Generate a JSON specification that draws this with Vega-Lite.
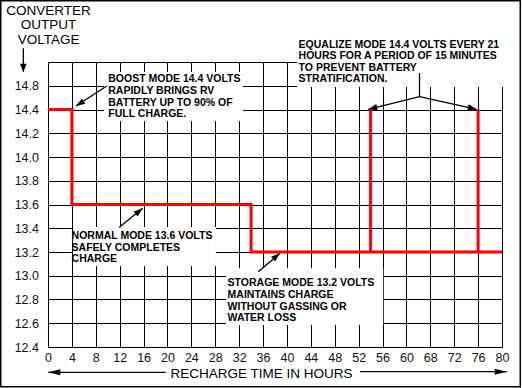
{
  "$schema": "https://vega.github.io/schema/vega-lite/v6.json",
  "width": 454,
  "height": 285,
  "autosize": {"type": "none"},
  "padding": {"left": 48, "top": 62, "right": 20, "bottom": 41},
  "background": "white",
  "data": {"values": [{}]},
  "config": {
    "view": {"stroke": null},
    "font": "Liberation Sans",
    "axis": {
      "grid": true, "gridColor": "#000", "gridOpacity": 1, "gridWidth": 1,
      "domainColor": "#000", "domainWidth": 1, "ticks": false, "tickCount": 30,
      "labelFont": "Liberation Sans", "labelFontSize": 12.5, "labelColor": "#111",
      "titleFont": "Liberation Sans", "titleFontSize": 13.5, "titleFontWeight": "normal", "titleColor": "#000"
    }
  },
  "layer": [
    {
      "data": {"values": [
        {"seq": 1, "hours": 0, "volts": 14.4},
        {"seq": 2, "hours": 4, "volts": 14.4},
        {"seq": 3, "hours": 4, "volts": 13.6},
        {"seq": 4, "hours": 34, "volts": 13.6},
        {"seq": 5, "hours": 34, "volts": 13.2},
        {"seq": 6, "hours": 54, "volts": 13.2},
        {"seq": 7, "hours": 54, "volts": 14.4},
        {"seq": 8, "hours": 54, "volts": 13.2},
        {"seq": 9, "hours": 76, "volts": 13.2},
        {"seq": 10, "hours": 76, "volts": 14.4},
        {"seq": 11, "hours": 76, "volts": 13.2},
        {"seq": 12, "hours": 80, "volts": 13.2}
      ]},
      "mark": {"type": "line", "color": "#ff0000", "strokeWidth": 3, "strokeJoin": "miter", "strokeCap": "butt"},
      "encoding": {
        "x": {
          "field": "hours", "type": "quantitative",
          "scale": {"domain": [0, 60, 68, 80], "range": [0, 358.42, 382.32, 454], "nice": false, "zero": false},
          "axis": {
            "values": [0, 4, 8, 12, 16, 20, 24, 28, 32, 36, 40, 44, 48, 52, 56, 60, 68, 72, 76, 80],
            "tickCount": 30,
            "format": "d", "labelFlush": false, "labelOverlap": false, "labelPadding": 4,
            "title": "RECHARGE TIME IN HOURS", "titleX": 213, "titleY": 30.3, "titleBaseline": "alphabetic", "titleAlign": "center"
          }
        },
        "y": {
          "field": "volts", "type": "quantitative",
          "scale": {"domain": [12.4, 14.8], "nice": false, "zero": false},
          "axis": {
            "values": [12.4, 12.6, 12.8, 13, 13.2, 13.4, 13.6, 13.8, 14, 14.2, 14.4, 14.6, 14.8],
            "tickCount": 30,
            "labelExpr": "datum.value > 14.7 ? '' : (datum.value > 14.5 ? '14.8' : format(datum.value, '.1f'))",
            "labelPadding": 9.5, "labelOverlap": false,
            "title": ["CONVERTER", "OUTPUT", "VOLTAGE"], "titleAngle": 0, "titleAlign": "center",
            "titleBaseline": "top", "titleX": 0, "titleY": -58.3, "titleLineHeight": 14.2
          }
        },
        "order": {"field": "seq"}
      }
    },
    {
      "mark": {"type": "rect", "fill": "white"},
      "encoding": {"x": {"datum": 9.37, "type": "quantitative"}, "x2": {"datum": 32.64}, "y": {"datum": 14.303, "type": "quantitative"}, "y2": {"datum": 14.716}}
    },
    {
      "mark": {"type": "rect", "fill": "white"},
      "encoding": {"x": {"datum": 4.18, "type": "quantitative"}, "x2": {"datum": 28.12}, "y": {"datum": 13.082, "type": "quantitative"}, "y2": {"datum": 13.41}}
    },
    {
      "mark": {"type": "rect", "fill": "white"},
      "encoding": {"x": {"datum": 29.8, "type": "quantitative"}, "x2": {"datum": 56.12}, "y": {"datum": 12.585, "type": "quantitative"}, "y2": {"datum": 13.065}}
    },
    {
      "mark": {"type": "rect", "fill": "white"},
      "encoding": {"x": {"datum": 41.68, "type": "quantitative"}, "x2": {"datum": 80.34}, "y": {"datum": 14.59, "type": "quantitative"}, "y2": {"datum": 15.011}}
    },
    {
      "mark": {"type": "text", "font": "Liberation Sans", "fontWeight": "bold", "fontSize": 10.5, "lineHeight": 11.6, "align": "left", "baseline": "top", "color": "#000"},
      "encoding": {"x": {"datum": 10.09, "type": "quantitative"}, "y": {"datum": 14.695, "type": "quantitative"},
        "text": {"value": ["BOOST MODE 14.4 VOLTS", "RAPIDLY BRINGS RV", "BATTERY UP TO 90% OF", "FULL CHARGE."]}}
    },
    {
      "mark": {"type": "text", "font": "Liberation Sans", "fontWeight": "bold", "fontSize": 10.5, "lineHeight": 11.6, "align": "left", "baseline": "top", "color": "#000"},
      "encoding": {"x": {"datum": 3.95, "type": "quantitative"}, "y": {"datum": 13.375, "type": "quantitative"},
        "text": {"value": ["NORMAL MODE 13.6 VOLTS", "SAFELY COMPLETES", "CHARGE"]}}
    },
    {
      "mark": {"type": "text", "font": "Liberation Sans", "fontWeight": "bold", "fontSize": 10.5, "lineHeight": 11.6, "align": "left", "baseline": "top", "color": "#000"},
      "encoding": {"x": {"datum": 30.06, "type": "quantitative"}, "y": {"datum": 12.977, "type": "quantitative"},
        "text": {"value": ["STORAGE MODE 13.2 VOLTS", "MAINTAINS CHARGE", "WITHOUT GASSING OR", "WATER LOSS"]}}
    },
    {
      "mark": {"type": "text", "font": "Liberation Sans", "fontWeight": "bold", "fontSize": 10.5, "lineHeight": 11.6, "align": "left", "baseline": "top", "color": "#000"},
      "encoding": {"x": {"datum": 41.95, "type": "quantitative"}, "y": {"datum": 14.989, "type": "quantitative"},
        "text": {"value": ["EQUALIZE MODE 14.4 VOLTS EVERY 21", "HOURS FOR A PERIOD OF 15 MINUTES", "TO PREVENT BATTERY", "STRATIFICATION."]}}
    },
    {
      "mark": {"type": "rule", "color": "#000", "strokeWidth": 1.3},
      "encoding": {"x": {"datum": 9.83, "type": "quantitative"}, "y": {"datum": 14.598, "type": "quantitative"}, "x2": {"datum": 4.69}, "y2": {"datum": 14.429}}
    },
    {
      "mark": {"type": "point", "shape": "M0,0L-0.7,2L0.7,2Z", "filled": true, "opacity": 1, "color": "#000", "size": 81, "angle": 236.9},
      "encoding": {"x": {"datum": 4.69, "type": "quantitative"}, "y": {"datum": 14.429, "type": "quantitative"}}
    },
    {
      "mark": {"type": "rule", "color": "#000", "strokeWidth": 1.3},
      "encoding": {"x": {"datum": 11.93, "type": "quantitative"}, "y": {"datum": 13.408, "type": "quantitative"}, "x2": {"datum": 15.85}, "y2": {"datum": 13.568}}
    },
    {
      "mark": {"type": "point", "shape": "M0,0L-0.7,2L0.7,2Z", "filled": true, "opacity": 1, "color": "#000", "size": 81, "angle": 50.9},
      "encoding": {"x": {"datum": 15.85, "type": "quantitative"}, "y": {"datum": 13.568, "type": "quantitative"}}
    },
    {
      "mark": {"type": "rule", "color": "#000", "strokeWidth": 1.3},
      "encoding": {"x": {"datum": 35.2, "type": "quantitative"}, "y": {"datum": 13.034, "type": "quantitative"}, "x2": {"datum": 38.83}, "y2": {"datum": 13.189}}
    },
    {
      "mark": {"type": "point", "shape": "M0,0L-0.7,2L0.7,2Z", "filled": true, "opacity": 1, "color": "#000", "size": 81, "angle": 49.7},
      "encoding": {"x": {"datum": 38.83, "type": "quantitative"}, "y": {"datum": 13.189, "type": "quantitative"}}
    },
    {
      "mark": {"type": "rule", "color": "#000", "strokeWidth": 1.3},
      "encoding": {"x": {"datum": 64.38, "type": "quantitative"}, "y": {"datum": 14.707, "type": "quantitative"}, "x2": {"datum": 64.38}, "y2": {"datum": 14.508}}
    },
    {
      "mark": {"type": "rule", "color": "#000", "strokeWidth": 1.3},
      "encoding": {"x": {"datum": 64.38, "type": "quantitative"}, "y": {"datum": 14.508, "type": "quantitative"}, "x2": {"datum": 53.62}, "y2": {"datum": 14.402}}
    },
    {
      "mark": {"type": "point", "shape": "M0,0L-0.7,2L0.7,2Z", "filled": true, "opacity": 1, "color": "#000", "size": 81, "angle": 256.2},
      "encoding": {"x": {"datum": 53.62, "type": "quantitative"}, "y": {"datum": 14.402, "type": "quantitative"}}
    },
    {
      "mark": {"type": "rule", "color": "#000", "strokeWidth": 1.3},
      "encoding": {"x": {"datum": 64.38, "type": "quantitative"}, "y": {"datum": 14.508, "type": "quantitative"}, "x2": {"datum": 75.77}, "y2": {"datum": 14.402}}
    },
    {
      "mark": {"type": "point", "shape": "M0,0L-0.7,2L0.7,2Z", "filled": true, "opacity": 1, "color": "#000", "size": 81, "angle": 102.4},
      "encoding": {"x": {"datum": 75.77, "type": "quantitative"}, "y": {"datum": 14.402, "type": "quantitative"}}
    },
    {
      "mark": {"type": "rule", "color": "#000", "strokeWidth": 1.3},
      "encoding": {"x": {"datum": -4.13, "type": "quantitative"}, "y": {"datum": 14.915, "type": "quantitative"}, "x2": {"datum": -4.13}, "y2": {"datum": 14.718}}
    },
    {
      "mark": {"type": "point", "shape": "M0,0L-0.85,2L0.85,2Z", "filled": true, "opacity": 1, "color": "#000", "size": 64, "angle": 180},
      "encoding": {"x": {"datum": -4.13, "type": "quantitative"}, "y": {"datum": 14.718, "type": "quantitative"}}
    },
    {
      "mark": {"type": "rule", "color": "#000", "strokeWidth": 1.3},
      "encoding": {"x": {"datum": 19.7, "type": "quantitative"}, "y": {"datum": 12.187, "type": "quantitative"}, "x2": {"datum": 0.05}, "y2": {"datum": 12.187}}
    },
    {
      "mark": {"type": "point", "shape": "M0,0L-0.5,2L0.5,2Z", "filled": true, "opacity": 1, "color": "#000", "size": 144, "angle": 270},
      "encoding": {"x": {"datum": 0.05, "type": "quantitative"}, "y": {"datum": 12.187, "type": "quantitative"}}
    },
    {
      "mark": {"type": "rule", "color": "#000", "strokeWidth": 1.3},
      "encoding": {"x": {"datum": 52.23, "type": "quantitative"}, "y": {"datum": 12.192, "type": "quantitative"}, "x2": {"datum": 80.79}, "y2": {"datum": 12.192}}
    },
    {
      "mark": {"type": "point", "shape": "M0,0L-0.5,2L0.5,2Z", "filled": true, "opacity": 1, "color": "#000", "size": 144, "angle": 90},
      "encoding": {"x": {"datum": 80.79, "type": "quantitative"}, "y": {"datum": 12.192, "type": "quantitative"}}
    },
    {
      "mark": {"type": "rect", "filled": false, "color": "#000", "strokeWidth": 1.5},
      "encoding": {"x": {"datum": -7.91, "type": "quantitative"}, "x2": {"datum": 83.06}, "y": {"datum": 12.065, "type": "quantitative"}, "y2": {"datum": 15.316}}
    }
  ]
}
